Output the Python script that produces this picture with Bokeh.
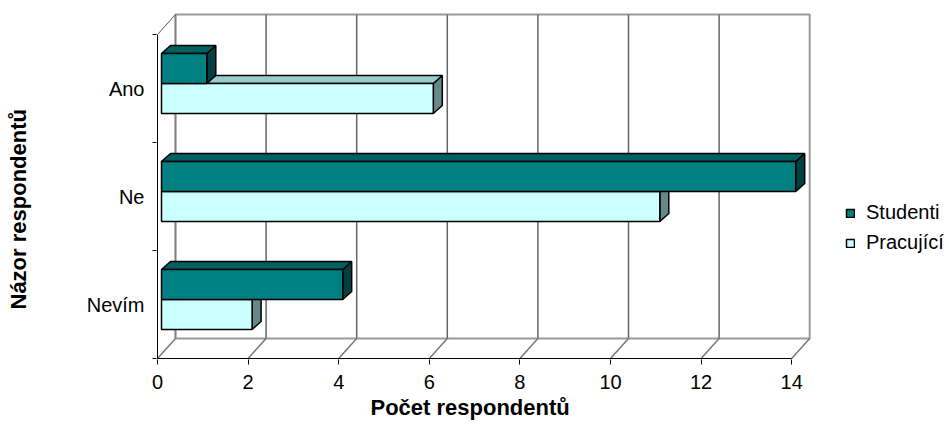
from bokeh.plotting import figure
from bokeh.models import Range1d, FixedTicker, Title, Legend, LegendItem
from bokeh.embed import file_html
from bokeh.resources import INLINE

# ---------------- data ----------------
categories = ["Nevím", "Ne", "Ano"]          # bottom -> top
studenti = [4, 14, 1]
pracujici = [2, 11, 6]
series_names = ["Studenti", "Pracující"]
series_front = ["#008080", "#CCFFFF"]
series_top = ["#006060", "#99CCCC"]
series_side = ["#004040", "#668888"]
x_ticks = [0, 2, 4, 6, 8, 10, 12, 14]
x_title = "Počet respondentů"
y_title = "Názor respondentů"

# ---------------- geometry (pixels) ----------------
W, H = 949, 444
XS = 45.3          # px per value unit
YS = 108.0         # px per category band
X0_PX, Y0_PX = 157, 358
FR_L, FR_T, FR_B = 156, 12, 359
WALL_DX, WALL_DY = 18 / XS, 20 / YS
BAR_SX, BAR_SY = 4 / XS, 5 / YS
BAR_DX, BAR_DY = 9 / XS, 8 / YS
BAR_H = 30 / YS
XMAX = x_ticks[-1]
NCAT = len(categories)

FONT = "Liberation Sans"

p = figure(width=W, height=H, output_backend="svg", toolbar_location=None,
           x_range=Range1d(-(X0_PX - FR_L) / XS, (W - X0_PX) / XS),
           y_range=Range1d(-(FR_B - Y0_PX) / YS, (Y0_PX - FR_T) / YS),
           min_border_left=FR_L, min_border_right=0,
           min_border_top=FR_T, min_border_bottom=H - FR_B)
p.outline_line_color = None
p.grid.visible = False
p.background_fill_color = "white"

# ---------------- walls / floor ----------------
p.quad(left=[WALL_DX], right=[XMAX + WALL_DX], bottom=[WALL_DY], top=[NCAT + WALL_DY],
       fill_color="white", line_color="#9a9a9a", line_width=2)
gx = [t + WALL_DX for t in x_ticks[1:-1]]
p.segment(x0=gx, y0=[WALL_DY] * len(gx), x1=gx, y1=[NCAT + WALL_DY] * len(gx),
          line_color="#666666", line_width=1.5)
p.segment(x0=[WALL_DX], y0=[WALL_DY], x1=[WALL_DX], y1=[NCAT + WALL_DY],
          line_color="#808080", line_width=1.5)
p.segment(x0=x_ticks, y0=[0] * len(x_ticks),
          x1=[t + WALL_DX for t in x_ticks], y1=[WALL_DY] * len(x_ticks),
          line_color="#777777", line_width=1.5)
p.segment(x0=[0], y0=[NCAT], x1=[WALL_DX], y1=[NCAT + WALL_DY],
          line_color="#555555", line_width=1)
p.segment(x0=[0, 0], y0=[0, 0], x1=[XMAX, 0], y1=[0, NCAT],
          line_color="black", line_width=1)


# ---------------- 3D bars ----------------
def draw_bars(values, lo, hi, front, topc, sidec):
    L, R, B, T = [], [], [], []
    txs, tys, sxs, sys_ = [], [], [], []
    for i, v in enumerate(values):
        left = BAR_SX
        right = v + BAR_SX
        bottom = i + 0.5 + lo + BAR_SY
        top = i + 0.5 + hi + BAR_SY
        L.append(left); R.append(right); B.append(bottom); T.append(top)
        txs.append([left, left + BAR_DX, right + BAR_DX, right])
        tys.append([top, top + BAR_DY, top + BAR_DY, top])
        sxs.append([right, right + BAR_DX, right + BAR_DX, right])
        sys_.append([bottom, bottom + BAR_DY, top + BAR_DY, top])
    p.patches(xs=sxs, ys=sys_, fill_color=sidec, line_color="black", line_width=1.5)
    p.patches(xs=txs, ys=tys, fill_color=topc, line_color="black", line_width=1.5)
    return p.quad(left=L, right=R, bottom=B, top=T, fill_color=front,
                  line_color="black", line_width=1.5)


r_p = draw_bars(pracujici, -BAR_H, 0, series_front[1], series_top[1], series_side[1])
r_s = draw_bars(studenti, 0, BAR_H, series_front[0], series_top[0], series_side[0])

# ---------------- legend ----------------
LEG_LEFT_PX, LEG_TOP_PX, LEG_H_PX = 845, 201, 53
legend = Legend(items=[LegendItem(label=series_names[0], renderers=[r_s]),
                       LegendItem(label=series_names[1], renderers=[r_p])],
                location=(LEG_LEFT_PX - FR_L, FR_B - LEG_TOP_PX - LEG_H_PX),
                glyph_width=10, glyph_height=10, label_standoff=11,
                spacing=7, padding=0, margin=0,
                border_line_color=None, background_fill_alpha=0,
                label_text_font=FONT, label_text_font_size="20px",
                label_text_color="black")
p.add_layout(legend, "center")

# ---------------- axes ----------------
xa = p.xaxis[0]
xa.ticker = FixedTicker(ticks=x_ticks, minor_ticks=[])
xa.axis_line_color = None
xa.major_tick_out = 5
xa.major_tick_in = 0
xa.minor_tick_out = 0
xa.major_label_standoff = 10
xa.major_label_text_font = FONT
xa.major_label_text_font_size = "20px"
xa.major_label_text_color = "black"

ya = p.yaxis[0]
centers = [i + 0.5 for i in range(NCAT)]
ya.ticker = FixedTicker(ticks=centers, minor_ticks=list(range(NCAT + 1)))
ya.major_label_overrides = {c: name for c, name in zip(centers, categories)}
ya.axis_line_color = None
ya.major_tick_out = 0
ya.major_tick_in = 0
ya.minor_tick_out = 4
ya.minor_tick_in = 0
ya.minor_tick_line_color = "black"
ya.major_label_standoff = 8
ya.major_label_text_font = FONT
ya.major_label_text_font_size = "20px"
ya.major_label_text_color = "black"

# axis titles
p.add_layout(Title(text=x_title, align="left", offset=214, vertical_align="top",
                   standoff=6, text_font=FONT, text_font_size="22px",
                   text_font_style="bold", text_color="black"), "below")
p.add_layout(Title(text=" ", standoff=50, text_font_size="1px"), "left")
p.add_layout(Title(text=y_title, align="left", offset=50, vertical_align="bottom",
                   standoff=0, text_font=FONT, text_font_size="22px",
                   text_font_style="bold", text_color="black"), "left")

open("out.html", "w").write(file_html(p, INLINE))
